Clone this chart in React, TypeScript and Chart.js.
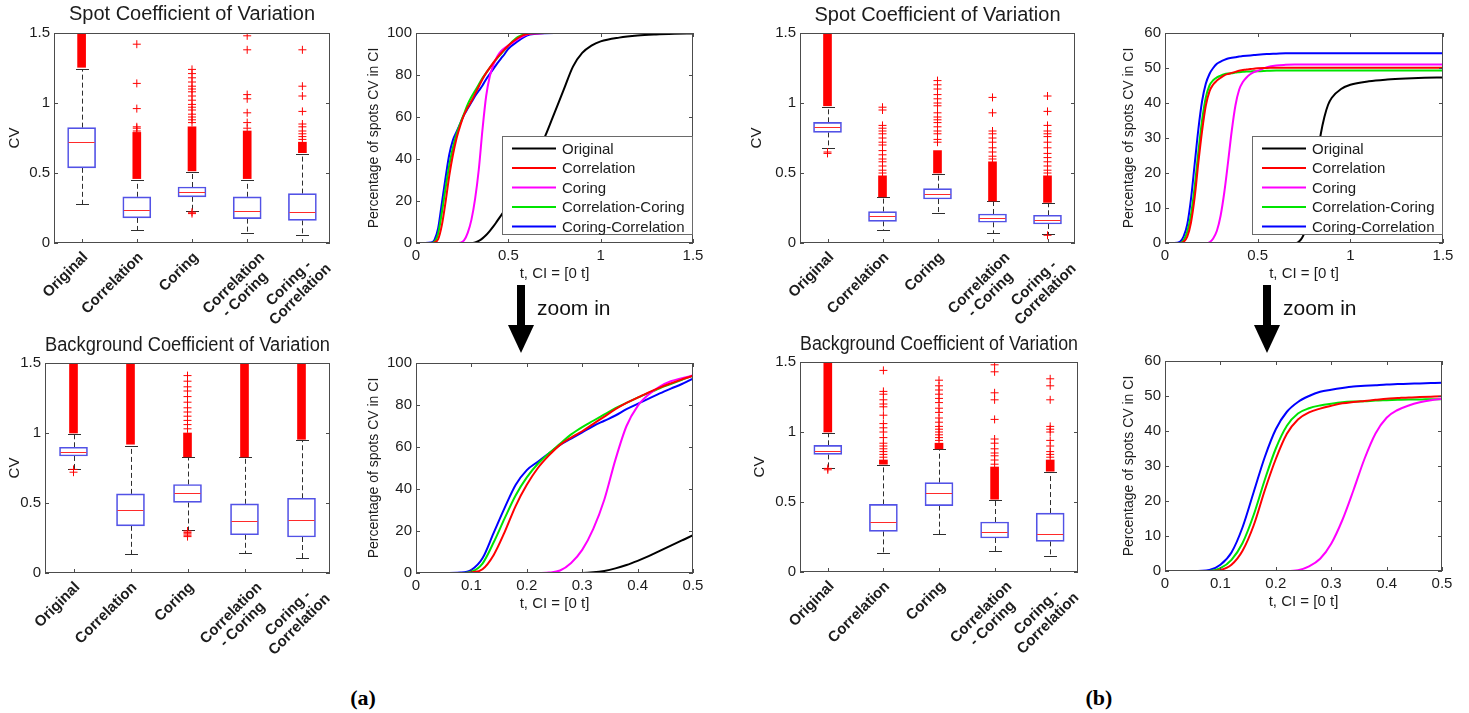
import React, { useEffect, useRef } from 'react';
import { Chart, registerables } from 'chart.js';

Chart.register(...registerables);
Chart.defaults.font.family = "'Liberation Sans', Arial, Helvetica, sans-serif";
Chart.defaults.color = '#1c1c1c';

const INK = '#1c1c1c';
const FRAME = '#4c4c4c';
const BOX_BLUE = '#5252e6';
const OUTLIER_RED = '#ff0000';
const MEDIAN_RED = '#ff2a2a';
const WHISKER = '#2e2e2e';

// ---------------------------------------------------------------------------
// Box plots: methods compared
// ---------------------------------------------------------------------------
const methods = ['Original', 'Correlation', 'Coring', 'Correlation - Coring', 'Coring - Correlation'];
const methodTickLines = [
  ['Original'],
  ['Correlation'],
  ['Coring'],
  ['Correlation', '- Coring'],
  ['Coring -', 'Correlation'],
];

// Spot coefficient of variation, data set (a)
const spotA_q1 = [0.537, 0.179, 0.33, 0.174, 0.162];
const spotA_median = [0.719, 0.239, 0.365, 0.229, 0.22];
const spotA_q3 = [0.824, 0.33, 0.4, 0.33, 0.353];
const spotA_low = [0.277, 0.091, 0.23, 0.074, 0.055];
const spotA_high = [1.245, 0.45, 0.505, 0.45, 0.635];
const spotA_dense: [number, number][] = [[1.255, 1.5], [0.46, 0.79], [0.515, 0.83], [0.46, 0.8], [0.645, 0.72]];
const spotA_sparse = [
  [],
  [0.8, 0.82, 0.83, 0.96, 1.14, 1.42],
  [0.21, 0.22, 0.86, 0.88, 0.9, 0.92, 0.95, 0.97, 0.99, 1.02, 1.05, 1.08, 1.1, 1.12, 1.15, 1.18, 1.21, 1.24],
  [0.82, 0.86, 0.93, 1.03, 1.06, 1.38, 1.48],
  [0.74, 0.76, 0.78, 0.8, 0.83, 0.85, 0.94, 1.05, 1.12, 1.38],
];

// Background coefficient of variation, data set (a)
const bgA_q1 = [0.836, 0.337, 0.504, 0.273, 0.257];
const bgA_median = [0.862, 0.451, 0.575, 0.368, 0.38];
const bgA_q3 = [0.898, 0.565, 0.632, 0.494, 0.534];
const bgA_low = [0.745, 0.135, 0.31, 0.143, 0.107];
const bgA_high = [0.993, 0.91, 0.826, 0.826, 0.95];
const bgA_dense: [number, number][] = [[1.0, 1.5], [0.92, 1.5], [0.83, 1.0], [0.83, 1.5], [0.955, 1.5]];
const bgA_sparse = [
  [0.72, 0.74],
  [],
  [0.26, 0.27, 0.28, 0.29, 0.3, 1.03, 1.06, 1.09, 1.12, 1.15, 1.18, 1.22, 1.26, 1.3, 1.33, 1.37, 1.41],
  [],
  [],
];

// Spot coefficient of variation, data set (b)
const spotB_q1 = [0.79, 0.155, 0.314, 0.148, 0.136];
const spotB_median = [0.826, 0.19, 0.35, 0.179, 0.167];
const spotB_q3 = [0.862, 0.224, 0.388, 0.207, 0.198];
const spotB_low = [0.68, 0.09, 0.214, 0.071, 0.065];
const spotB_high = [0.97, 0.326, 0.495, 0.298, 0.285];
const spotB_dense: [number, number][] = [[0.98, 1.5], [0.33, 0.48], [0.5, 0.66], [0.3, 0.58], [0.29, 0.48]];
const spotB_sparse = [
  [0.64, 0.65],
  [0.5, 0.52, 0.55, 0.58, 0.6, 0.63, 0.66, 0.7, 0.72, 0.75, 0.78, 0.8, 0.82, 0.84, 0.95, 0.97],
  [0.72, 0.74, 0.78, 0.8, 0.83, 0.86, 0.88, 0.9, 0.93, 0.98, 1.0, 1.03, 1.06, 1.1, 1.13, 1.16],
  [0.6, 0.62, 0.65, 0.68, 0.72, 0.75, 0.78, 0.8, 0.93, 1.04],
  [0.055, 0.5, 0.52, 0.55, 0.58, 0.61, 0.64, 0.68, 0.72, 0.76, 0.78, 0.8, 0.84, 0.94, 1.05],
];

// Background coefficient of variation, data set (b)
const bgB_q1 = [0.84, 0.29, 0.474, 0.243, 0.219];
const bgB_median = [0.864, 0.357, 0.564, 0.286, 0.274];
const bgB_q3 = [0.905, 0.483, 0.638, 0.357, 0.421];
const bgB_low = [0.745, 0.138, 0.269, 0.148, 0.112];
const bgB_high = [0.995, 0.765, 0.876, 0.515, 0.714];
const bgB_dense: [number, number][] = [[1.0, 1.5], [0.77, 0.8], [0.88, 0.92], [0.52, 0.75], [0.72, 0.8]];
const bgB_sparse = [
  [0.73, 0.74],
  [0.82, 0.84, 0.86, 0.88, 0.9, 0.92, 0.96, 1.0, 1.03, 1.06, 1.12, 1.18, 1.2, 1.23, 1.27, 1.29, 1.44],
  [0.94, 0.96, 0.98, 1.0, 1.02, 1.04, 1.07, 1.1, 1.14, 1.17, 1.21, 1.24, 1.27, 1.3, 1.33, 1.37],
  [0.77, 0.8, 0.83, 0.85, 0.88, 0.92, 0.95, 1.09, 1.23, 1.28, 1.43, 1.48],
  [0.82, 0.84, 0.86, 0.9, 0.94, 1.0, 1.02, 1.04, 1.23, 1.33, 1.38],
];

// ---------------------------------------------------------------------------
// Cumulative curves: percentage of spots whose CV lies in [0, t]
// ---------------------------------------------------------------------------
const curveLabels = ['Original', 'Correlation', 'Coring', 'Correlation-Coring', 'Coring-Correlation'];
const curveColors = ['#000000', '#ff0000', '#ff00ff', '#00e400', '#0000ff'];

const tA = [0, 0.05, 0.08, 0.1, 0.12, 0.14, 0.16, 0.18, 0.2, 0.22, 0.24, 0.26, 0.28, 0.3, 0.32, 0.34, 0.36, 0.38, 0.4, 0.42,
  0.44, 0.46, 0.48, 0.5, 0.55, 0.6, 0.65, 0.7, 0.75, 0.8, 0.85, 0.9, 0.95, 1.0, 1.1, 1.2, 1.3, 1.4, 1.5];
const originalA = [0, 0, 0, 0, 0, 0, 0, 0, 0, 0, 0, 0, 0, 0, 0.3, 1, 2.2, 3.8, 5.8, 8,
  10.5, 13, 15.5, 18, 25, 33, 42, 51, 62, 73, 84, 90.5, 94, 96, 97.8, 98.8, 99.3, 99.6, 99.8];
const correlationA = [0, 0, 0, 0.3, 1.8, 8.5, 19.5, 32, 42, 50, 56, 61, 64.5, 67.5, 71, 74.5, 78, 81, 83.5, 86,
  88.3, 90.3, 92.2, 94, 97.5, 99.5, 99.9, 100, 100, 100, 100, 100, 100, 100, 100, 100, 100, 100, 100];
const coringA = [0, 0, 0, 0, 0, 0, 0, 0, 0, 0, 0.2, 1.2, 4.8, 11, 21, 35, 54, 70, 79.5, 85,
  88.8, 91.3, 92.8, 94, 97, 99.3, 99.8, 100, 100, 100, 100, 100, 100, 100, 100, 100, 100, 100, 100];
const corrCoringA = [0, 0, 0, 0.6, 4.5, 14.5, 26, 37, 45.5, 52, 57, 61.5, 66, 69.5, 72.5, 75.5, 78.5, 81, 83.5, 85.8,
  88, 90, 92, 94, 98, 99.7, 100, 100, 100, 100, 100, 100, 100, 100, 100, 100, 100, 100, 100];
const coringCorrA = [0, 0, 0.2, 1.5, 7, 19, 31, 42, 49, 53, 57, 61, 64, 67, 70, 72.5, 75, 78, 80.5, 83,
  85.5, 87.8, 90, 92.5, 96, 98.8, 99.6, 99.9, 100, 100, 100, 100, 100, 100, 100, 100, 100, 100, 100];

const tB = [0, 0.05, 0.08, 0.1, 0.12, 0.14, 0.16, 0.18, 0.2, 0.22, 0.24, 0.26, 0.28, 0.3, 0.32, 0.34, 0.36, 0.38, 0.4, 0.42,
  0.44, 0.46, 0.48, 0.5, 0.55, 0.6, 0.65, 0.7, 0.72, 0.74, 0.76, 0.78, 0.8, 0.82, 0.84, 0.86, 0.88, 0.9, 0.95, 1.0,
  1.1, 1.2, 1.3, 1.4, 1.5];
const originalB = [0, 0, 0, 0, 0, 0, 0, 0, 0, 0, 0, 0, 0, 0, 0, 0, 0, 0, 0, 0,
  0, 0, 0, 0, 0, 0, 0, 0, 0.3, 1.5, 4, 9, 16, 24, 31, 36, 39.5, 41.5, 44, 45.2,
  46.2, 46.7, 47, 47.2, 47.3];
const correlationB = [0, 0, 0, 0.3, 1.8, 5.8, 13, 23, 32, 39.2, 43.3, 45.3, 46.4, 47.2, 47.9, 48.3, 48.6, 48.9, 49.2, 49.4,
  49.6, 49.7, 49.8, 49.9, 50, 50.1, 50.1, 50.1, 50.1, 50.1, 50.1, 50.1, 50.1, 50.1, 50.1, 50.1, 50.1, 50.1, 50.1, 50.1,
  50.1, 50.1, 50.1, 50.1, 50.1];
const coringB = [0, 0, 0, 0, 0, 0, 0, 0, 0, 0, 0.2, 1.3, 3.5, 7.8, 14.5, 23, 32, 39.3, 43.8, 46,
  47.3, 48.2, 48.8, 49.2, 50.2, 50.7, 50.9, 51, 51, 51, 51, 51, 51, 51, 51, 51, 51, 51, 51, 51,
  51, 51, 51, 51, 51];
const corrCoringB = [0, 0, 0, 0.8, 3.2, 8, 16, 26, 35, 41.5, 45, 46.5, 47.3, 47.8, 48.2, 48.4, 48.5, 48.7, 48.8, 48.9,
  49, 49, 49.1, 49.1, 49.2, 49.3, 49.3, 49.3, 49.3, 49.3, 49.3, 49.3, 49.3, 49.3, 49.3, 49.3, 49.3, 49.3, 49.3, 49.3,
  49.3, 49.3, 49.3, 49.3, 49.3];
const coringCorrB = [0, 0, 0.3, 1.8, 5.3, 12.5, 22.5, 32.5, 40.5, 45.5, 48.3, 50, 51.2, 51.8, 52.3, 52.7, 52.9, 53.1, 53.3, 53.4,
  53.5, 53.6, 53.7, 53.8, 54, 54.1, 54.2, 54.2, 54.2, 54.2, 54.2, 54.2, 54.2, 54.2, 54.2, 54.2, 54.2, 54.2, 54.2, 54.2,
  54.2, 54.2, 54.2, 54.2, 54.2];

const curvesA = [originalA, correlationA, coringA, corrCoringA, coringCorrA];
const curvesB = [originalB, correlationB, coringB, corrCoringB, coringCorrB];

// ---------------------------------------------------------------------------
// Helpers
// ---------------------------------------------------------------------------
const fmt = (v: number | string) => String(Math.round(Number(v) * 100) / 100);

type BoxStats = {
  q1: number[];
  median: number[];
  q3: number[];
  low: number[];
  high: number[];
  dense: [number, number][];
  sparse: number[][];
};

const BOX_WIDTH = 28;
const CAP_WIDTH = 13;

// MATLAB-like axes box with inward tick marks on every side
function frameTicks(topTicks: boolean) {
  return {
    id: 'frameTicks',
    afterDraw(chart: any) {
      const { ctx, chartArea: a, scales } = chart;
      const len = 4;
      ctx.save();
      ctx.strokeStyle = FRAME;
      ctx.lineWidth = 1;
      ctx.setLineDash([]);
      ctx.beginPath();
      const ys = scales.y;
      ys.ticks.forEach((_: any, i: number) => {
        const py = Math.round(ys.getPixelForTick(i)) + 0.5;
        ctx.moveTo(a.left, py);
        ctx.lineTo(a.left + len, py);
        ctx.moveTo(a.right, py);
        ctx.lineTo(a.right - len, py);
      });
      const xs = scales.x;
      xs.ticks.forEach((_: any, i: number) => {
        const px = Math.round(xs.getPixelForTick(i)) + 0.5;
        ctx.moveTo(px, a.bottom);
        ctx.lineTo(px, a.bottom - len);
        if (topTicks) {
          ctx.moveTo(px, a.top);
          ctx.lineTo(px, a.top + len);
        }
      });
      ctx.stroke();
      ctx.strokeRect(
        Math.round(a.left) + 0.5,
        Math.round(a.top) + 0.5,
        Math.round(a.right - a.left) - 1,
        Math.round(a.bottom - a.top) - 1,
      );
      ctx.restore();
    },
  };
}

// Rotated method names under the box plot; two-line names are centred line by line
const categoryLabels = {
  id: 'categoryLabels',
  afterDraw(chart: any) {
    const { ctx, chartArea: a, scales } = chart;
    const xs = scales.x;
    const lh = 16;
    ctx.save();
    ctx.font = "bold 15px 'Liberation Sans', Arial, sans-serif";
    ctx.fillStyle = INK;
    ctx.textAlign = 'right';
    ctx.textBaseline = 'middle';
    methodTickLines.forEach((lines, i) => {
      const px = xs.getPixelForTick(i);
      const shift = lines.length > 1 ? 15 : 4;
      const widths = lines.map((l) => ctx.measureText(l).width);
      const w = Math.max(...widths);
      ctx.save();
      ctx.translate(px + shift, a.bottom + 12);
      ctx.rotate(-Math.PI / 4);
      lines.forEach((l, j) => ctx.fillText(l, -(w - widths[j]) / 2, j * lh));
      ctx.restore();
    });
    ctx.restore();
  },
};

// Legend box sitting in the lower right corner of the plot area
const insetLegend = {
  id: 'insetLegend',
  afterDraw(chart: any) {
    const { ctx, chartArea: a } = chart;
    const w = 191;
    const h = 99;
    const x0 = Math.round(a.right) - w;
    const y0 = Math.round(a.bottom) - 8 - h;
    ctx.save();
    ctx.fillStyle = '#ffffff';
    ctx.fillRect(x0, y0, w, h);
    ctx.strokeStyle = '#6a6a6a';
    ctx.lineWidth = 1;
    ctx.strokeRect(x0 + 0.5, y0 + 0.5, w - 1, h - 1);
    ctx.font = "15px 'Liberation Sans', Arial, sans-serif";
    ctx.textBaseline = 'middle';
    chart.data.datasets.forEach((ds: any, i: number) => {
      const y = y0 + 12.5 + i * 19.5;
      ctx.strokeStyle = ds.borderColor;
      ctx.lineWidth = 2;
      ctx.beginPath();
      ctx.moveTo(x0 + 10, y);
      ctx.lineTo(x0 + 54, y);
      ctx.stroke();
      ctx.fillStyle = INK;
      ctx.fillText(ds.label, x0 + 60, y + 1);
    });
    ctx.restore();
  },
};

// Whiskers, caps and medians for the box plot
function boxParts(s: BoxStats) {
  return {
    id: 'boxParts',
    beforeDatasetsDraw(chart: any) {
      const { ctx, scales } = chart;
      const xs = scales.x;
      const ys = scales.y;
      ctx.save();
      ctx.strokeStyle = WHISKER;
      ctx.lineWidth = 1;
      s.q1.forEach((_, i) => {
        const px = Math.round(xs.getPixelForValue(i)) + 0.5;
        const yLow = Math.round(ys.getPixelForValue(s.low[i])) + 0.5;
        const yHigh = Math.round(ys.getPixelForValue(s.high[i])) + 0.5;
        const yQ1 = ys.getPixelForValue(s.q1[i]);
        const yQ3 = ys.getPixelForValue(s.q3[i]);
        ctx.setLineDash([5, 3]);
        ctx.beginPath();
        ctx.moveTo(px, yQ3);
        ctx.lineTo(px, yHigh);
        ctx.moveTo(px, yQ1);
        ctx.lineTo(px, yLow);
        ctx.stroke();
        ctx.setLineDash([]);
        ctx.beginPath();
        ctx.moveTo(px - CAP_WIDTH / 2, yHigh);
        ctx.lineTo(px + CAP_WIDTH / 2, yHigh);
        ctx.moveTo(px - CAP_WIDTH / 2, yLow);
        ctx.lineTo(px + CAP_WIDTH / 2, yLow);
        ctx.stroke();
      });
      ctx.restore();
    },
    afterDatasetsDraw(chart: any) {
      const { ctx, scales } = chart;
      const xs = scales.x;
      const ys = scales.y;
      ctx.save();
      ctx.strokeStyle = MEDIAN_RED;
      ctx.lineWidth = 1;
      ctx.beginPath();
      s.median.forEach((m, i) => {
        const px = xs.getPixelForValue(i);
        const py = Math.round(ys.getPixelForValue(m)) + 0.5;
        ctx.moveTo(px - BOX_WIDTH / 2 + 1, py);
        ctx.lineTo(px + BOX_WIDTH / 2 - 1, py);
      });
      ctx.stroke();
      ctx.restore();
    },
  };
}

type BoxPanel = {
  title: string;
  stats: BoxStats;
  yWidth: number;
  yTitlePad: number;
  padTop: number;
  titleGap: number;
  xHeight: number;
};

function boxConfig(p: BoxPanel) {
  const s = p.stats;
  const sparsePoints = s.sparse.flatMap((vals, i) => vals.map((y) => ({ x: methods[i], y })));
  return {
    type: 'bar',
    data: {
      labels: methods,
      datasets: [
        {
          type: 'scatter',
          data: sparsePoints,
          pointStyle: 'cross',
          pointRadius: 4,
          pointBorderWidth: 1,
          pointBorderColor: OUTLIER_RED,
          pointBackgroundColor: OUTLIER_RED,
          showLine: false,
        },
        {
          data: s.dense,
          backgroundColor: OUTLIER_RED,
          borderWidth: 0,
          barThickness: 8,
          grouped: false,
        },
        {
          data: s.q1.map((q, i) => [q, s.q3[i]]),
          backgroundColor: 'rgba(255,255,255,0)',
          borderColor: BOX_BLUE,
          borderWidth: 1,
          borderSkipped: false,
          barThickness: BOX_WIDTH,
          grouped: false,
        },
      ],
    },
    options: {
      responsive: false,
      animation: false,
      events: [],
      layout: { padding: { top: p.padTop, right: 20, bottom: 0, left: 0 } },
      plugins: {
        legend: { display: false },
        tooltip: { enabled: false },
        title: {
          display: true,
          text: p.title,
          fullSize: false,
          color: INK,
          font: { size: 20, weight: 'normal' },
          padding: { top: 0, bottom: p.titleGap },
        },
      },
      scales: {
        x: {
          type: 'category',
          offset: true,
          grid: { display: false, drawTicks: false },
          border: { display: false },
          ticks: { display: false, autoSkip: false },
          afterFit: (scale: any) => {
            scale.height = p.xHeight;
          },
        },
        y: {
          type: 'linear',
          min: 0,
          max: 1.5,
          grid: { display: false, drawTicks: false },
          border: { display: false },
          ticks: { stepSize: 0.5, padding: 4, color: INK, font: { size: 15 }, callback: fmt },
          title: { display: true, text: 'CV', color: INK, font: { size: 15 }, padding: { top: p.yTitlePad, bottom: 0 } },
          afterFit: (scale: any) => {
            scale.width = p.yWidth;
          },
        },
      },
    },
    plugins: [boxParts(s), frameTicks(false), categoryLabels],
  };
}

type CurvePanel = {
  t: number[];
  curves: number[][];
  xMax: number;
  xStep: number;
  yMax: number;
  yStep: number;
  legend: boolean;
  yWidth: number;
  yTitlePad: number;
  padTop: number;
};

function curveConfig(p: CurvePanel) {
  const plugins: any[] = [frameTicks(true)];
  if (p.legend) plugins.push(insetLegend);
  return {
    type: 'line',
    data: {
      datasets: p.curves.map((vals, k) => ({
        label: curveLabels[k],
        data: p.t.map((x, i) => ({ x, y: vals[i] })),
        borderColor: curveColors[k],
        backgroundColor: curveColors[k],
        borderWidth: 2,
        pointRadius: 0,
        cubicInterpolationMode: 'monotone',
        fill: false,
      })),
    },
    options: {
      responsive: false,
      animation: false,
      events: [],
      layout: { padding: { top: p.padTop, right: 16, bottom: 0, left: 0 } },
      plugins: { legend: { display: false }, tooltip: { enabled: false } },
      scales: {
        x: {
          type: 'linear',
          min: 0,
          max: p.xMax,
          grid: { display: false, drawTicks: false },
          border: { display: false },
          ticks: { stepSize: p.xStep, padding: 4, maxRotation: 0, color: INK, font: { size: 15 }, callback: fmt },
          title: { display: true, text: 't, CI = [0 t]', color: INK, font: { size: 15 }, padding: { top: 0, bottom: 5 } },
          afterFit: (scale: any) => {
            scale.height = 45;
          },
        },
        y: {
          type: 'linear',
          min: 0,
          max: p.yMax,
          grid: { display: false, drawTicks: false },
          border: { display: false },
          ticks: { stepSize: p.yStep, padding: 4, color: INK, font: { size: 15 }, callback: fmt },
          title: {
            display: true,
            text: 'Percentage of spots CV in CI',
            color: INK,
            font: { size: 14 },
            padding: { top: p.yTitlePad, bottom: 0 },
          },
          afterFit: (scale: any) => {
            scale.width = p.yWidth;
          },
        },
      },
    },
    plugins,
  };
}

// ---------------------------------------------------------------------------
// Panel configurations
// ---------------------------------------------------------------------------
const statsSpotA: BoxStats = { q1: spotA_q1, median: spotA_median, q3: spotA_q3, low: spotA_low, high: spotA_high, dense: spotA_dense, sparse: spotA_sparse };
const statsBgA: BoxStats = { q1: bgA_q1, median: bgA_median, q3: bgA_q3, low: bgA_low, high: bgA_high, dense: bgA_dense, sparse: bgA_sparse };
const statsSpotB: BoxStats = { q1: spotB_q1, median: spotB_median, q3: spotB_q3, low: spotB_low, high: spotB_high, dense: spotB_dense, sparse: spotB_sparse };
const statsBgB: BoxStats = { q1: bgB_q1, median: bgB_median, q3: bgB_q3, low: bgB_low, high: bgB_high, dense: bgB_dense, sparse: bgB_sparse };

const makeSpotA = () => boxConfig({ title: 'Spot Coefficient of Variation', stats: statsSpotA, yWidth: 54, yTitlePad: 6, padTop: 2, titleGap: 7, xHeight: 87 });
const makeBgA = () => boxConfig({ title: 'Background Coefficient of Variation', stats: statsBgA, yWidth: 45, yTitlePad: 6, padTop: 3, titleGap: 6, xHeight: 87 });
const makeSpotB = () => boxConfig({ title: 'Spot Coefficient of Variation', stats: statsSpotB, yWidth: 60, yTitlePad: 8, padTop: 3, titleGap: 6, xHeight: 87 });
const makeBgB = () => boxConfig({ title: 'Background Coefficient of Variation', stats: statsBgB, yWidth: 60, yTitlePad: 11, padTop: 2, titleGap: 6, xHeight: 88 });

const makeCurveA = () => curveConfig({ t: tA, curves: curvesA, xMax: 1.5, xStep: 0.5, yMax: 100, yStep: 20, legend: true, yWidth: 58, yTitlePad: 7.6, padTop: 33 });
const makeCurveAZoom = () => curveConfig({ t: tA, curves: curvesA, xMax: 0.5, xStep: 0.1, yMax: 100, yStep: 20, legend: false, yWidth: 58, yTitlePad: 7.6, padTop: 33 });
const makeCurveB = () => curveConfig({ t: tB, curves: curvesB, xMax: 1.5, xStep: 0.5, yMax: 60, yStep: 10, legend: true, yWidth: 55, yTitlePad: 10.6, padTop: 33 });
const makeCurveBZoom = () => curveConfig({ t: tB, curves: curvesB, xMax: 0.5, xStep: 0.1, yMax: 60, yStep: 10, legend: false, yWidth: 55, yTitlePad: 10.6, padTop: 31 });

// ---------------------------------------------------------------------------
// Components
// ---------------------------------------------------------------------------
function ChartCanvas(props: { left: number; top: number; width: number; height: number; make: () => any }) {
  const { left, top, width, height, make } = props;
  const ref = useRef<HTMLCanvasElement>(null);
  useEffect(() => {
    const chart = new Chart(ref.current as HTMLCanvasElement, make());
    return () => chart.destroy();
  }, [make]);
  return (
    <canvas
      ref={ref}
      width={width}
      height={height}
      style={{ position: 'absolute', left, top, width, height, display: 'block' }}
    />
  );
}

function ZoomArrow({ cx }: { cx: number }) {
  return (
    <>
      <svg
        width={28}
        height={72}
        style={{ position: 'absolute', left: cx - 14, top: 283, overflow: 'visible' }}
      >
        <rect x={10} y={2} width={8} height={42} fill="#000" />
        <polygon points="1,42 27,42 14,70" fill="#000" />
      </svg>
      <div
        style={{
          position: 'absolute',
          left: cx + 16,
          top: 297,
          font: "21px 'Liberation Sans', Arial, sans-serif",
          lineHeight: '21px',
          color: '#111',
          whiteSpace: 'nowrap',
        }}
      >
        zoom in
      </div>
    </>
  );
}

function Caption({ cx, text }: { cx: number; text: string }) {
  return (
    <div
      style={{
        position: 'absolute',
        left: cx - 30,
        top: 686,
        width: 60,
        textAlign: 'center',
        font: "bold 22px 'Liberation Serif', 'Times New Roman', serif",
        lineHeight: '24px',
        color: '#000',
      }}
    >
      {text}
    </div>
  );
}

export default function App() {
  return (
    <div
      style={{
        position: 'absolute',
        left: 0,
        top: 0,
        width: 1469,
        height: 713,
        background: '#ffffff',
        overflow: 'hidden',
      }}
    >
      <ChartCanvas left={0} top={0} width={350} height={330} make={makeSpotA} />
      <ChartCanvas left={358} top={0} width={351} height={288} make={makeCurveA} />
      <ChartCanvas left={0} top={330} width={350} height={330} make={makeBgA} />
      <ChartCanvas left={358} top={330} width={351} height={288} make={makeCurveAZoom} />

      <ChartCanvas left={740} top={0} width={355} height={330} make={makeSpotB} />
      <ChartCanvas left={1110} top={0} width={349} height={288} make={makeCurveB} />
      <ChartCanvas left={740} top={330} width={358} height={330} make={makeBgB} />
      <ChartCanvas left={1110} top={330} width={348} height={286} make={makeCurveBZoom} />

      <ZoomArrow cx={521} />
      <ZoomArrow cx={1267} />
      <Caption cx={363} text="(a)" />
      <Caption cx={1099} text="(b)" />
    </div>
  );
}
